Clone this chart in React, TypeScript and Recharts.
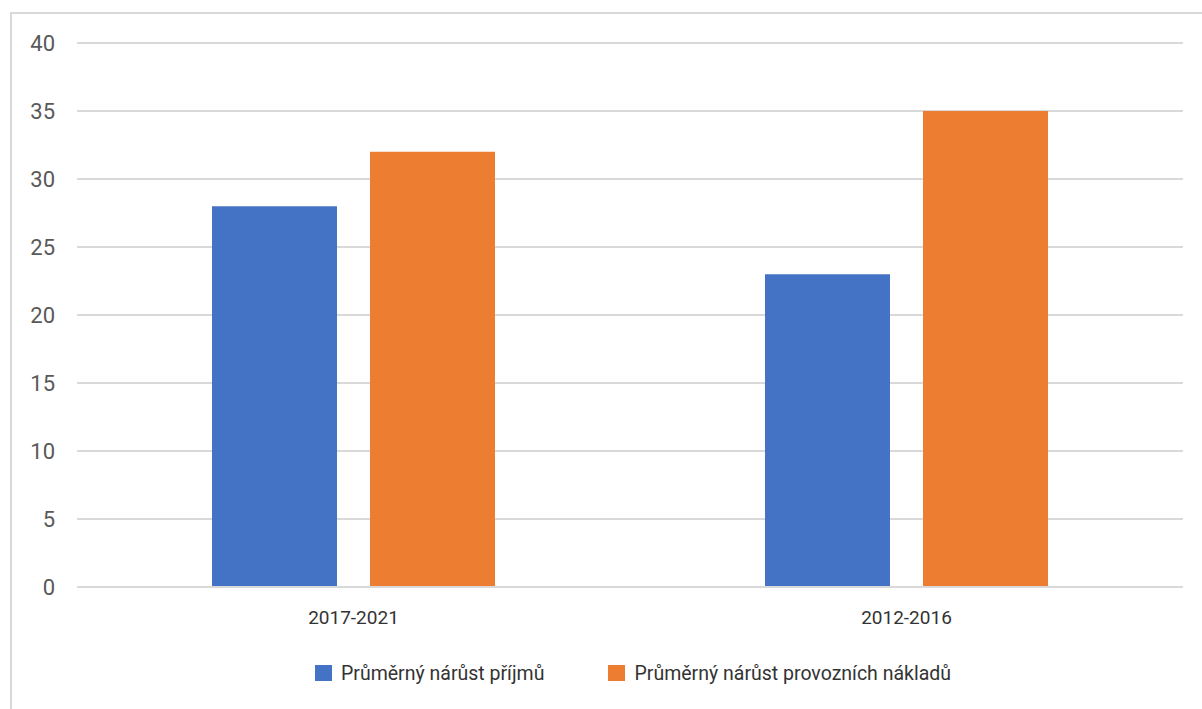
import { Bar, BarChart, CartesianGrid, Legend, XAxis, YAxis } from 'recharts';

const PERIODS = ['2017-2021', '2012-2016'];
const PRIJMY = [28, 23];
const NAKLADY = [32, 35];
const Y_TICKS = [0, 5, 10, 15, 20, 25, 30, 35, 40];

const SERIES = [
    { key: 'prijmy', name: 'Průměrný nárůst příjmů', color: '#4472C4' },
    { key: 'naklady', name: 'Průměrný nárůst provozních nákladů', color: '#ED7D31' },
] as const;

const data = PERIODS.map((period, i) => ({
    period,
    prijmy: PRIJMY[i],
    naklady: NAKLADY[i],
}));

const FONT = 'Roboto, "Noto Sans", sans-serif';

function LegendContent() {
    return (
        <div style={{ display: 'flex', alignItems: 'center', height: 40, fontFamily: FONT, fontSize: 19.5, color: '#333', whiteSpace: 'nowrap' }}>
            {SERIES.map((s, i) => (
                <div key={s.key} style={{ display: 'flex', alignItems: 'center', marginRight: i === 0 ? 64 : 0 }}>
                    <span style={{ width: 17, height: 16, background: s.color, marginRight: 9, display: 'inline-block' }} />
                    <span>{s.name}</span>
                </div>
            ))}
        </div>
    );
}

export default function App() {
    return (
        <div style={{ position: 'absolute', left: 0, top: 0, width: 1202, height: 709, overflow: 'hidden', background: '#fff' }}>
            <div
                style={{
                    position: 'absolute',
                    left: 10,
                    top: 12,
                    width: 1220,
                    height: 740,
                    border: '2px solid #d9d9d9',
                    boxSizing: 'border-box',
                }}
            />
            <div style={{ position: 'absolute', left: 0, top: 0 }}>
                <BarChart width={1202} height={709} data={data} margin={{ top: 43, right: 19, left: 0, bottom: 52 }} barSize={125} barGap={33}>
                    <CartesianGrid stroke="#d9d9d9" strokeWidth={2} vertical={false} />
                    <XAxis
                        dataKey="period"
                        height={30}
                        tickLine={false}
                        tickMargin={18}
                        axisLine={{ stroke: '#d9d9d9', strokeWidth: 2 }}
                        tick={{ fontSize: 19, fill: '#333', fontFamily: FONT }}
                    />
                    <YAxis
                        width={77}
                        domain={[0, 40]}
                        ticks={Y_TICKS}
                        interval={0}
                        tickLine={false}
                        axisLine={false}
                        tickMargin={16}
                        tick={{ fontSize: 22, fill: '#595959', fontFamily: FONT }}
                    />
                    <Legend
                        verticalAlign="bottom"
                        content={<LegendContent />}
                        wrapperStyle={{ top: 653, left: 315, bottom: 'auto', width: 'auto' }}
                    />
                    {SERIES.map((s) => (
                        <Bar key={s.key} dataKey={s.key} name={s.name} fill={s.color} isAnimationActive={false} />
                    ))}
                </BarChart>
            </div>
        </div>
    );
}
